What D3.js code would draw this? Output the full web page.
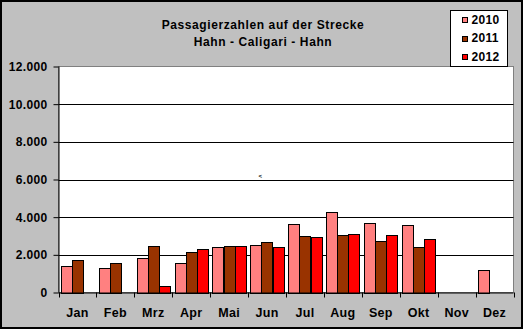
<!DOCTYPE html>
<html><head><meta charset="utf-8">
<script src="https://cdn.jsdelivr.net/npm/d3@7"></script>
<style>
html,body{margin:0;padding:0;background:#fff;}
svg{display:block;font-family:"Liberation Sans",Arial,sans-serif;}
text{font-weight:bold;fill:#000;}
</style></head>
<body><svg id="c" width="524" height="330"></svg>
<script>
const months = ["Jan","Feb","Mrz","Apr","Mai","Jun","Jul","Aug","Sep","Okt","Nov","Dez"];
const seriesNames = ["2010","2011","2012"];
const values2010 = [1430,1320,1850,1540,2390,2540,3660,4290,3710,3600,null,1220];
const values2011 = [1710,1540,2490,2170,2490,2700,3020,3070,2760,2440,null,null];
const values2012 = [null,null,320,2330,2490,2390,2970,3130,3070,2860,null,null];
const yTicks = [0,2000,4000,6000,8000,10000,12000];
const colors = ["#FF8080","#993300","#FF0000"];
const titleLines = ["Passagierzahlen auf der Strecke","Hahn - Caligari - Hahn"];

const allSeries = [values2010, values2011, values2012];
const svg = d3.select("#c");
const plot = {left:58.5, right:513.5, top:66.5, bottom:292.5};

svg.append("rect").attr("x",1).attr("y",1).attr("width",521).attr("height",327)
  .attr("fill","#C0C0C0").attr("stroke","#000").attr("stroke-width",2);

const x = d3.scaleBand().domain(months).range([plot.left, plot.right]).paddingInner(0).paddingOuter(0);
const xs = d3.scaleBand().domain(seriesNames).range([2.3, x.bandwidth()-2.3]).padding(0);
const y = d3.scaleLinear().domain([0,12000]).range([plot.bottom, plot.top]);

svg.append("rect").attr("x",plot.left).attr("y",plot.top)
  .attr("width",plot.right-plot.left).attr("height",plot.bottom-plot.top)
  .attr("fill","#fff").attr("stroke","#808080").attr("stroke-width",1);

svg.append("g").selectAll("line").data(yTicks.filter(t=>t>0 && t<12000)).join("line")
  .attr("x1",plot.left).attr("x2",plot.right)
  .attr("y1",d=>Math.round(y(d))+0.5).attr("y2",d=>Math.round(y(d))+0.5)
  .attr("stroke","#000").attr("stroke-width",1);

const g = svg.append("g").attr("shape-rendering","crispEdges");
months.forEach((m,i)=>{
  allSeries.forEach((s,j)=>{
    const v = s[i];
    if(v==null) return;
    const x0 = x(m)+xs(seriesNames[j]);
    g.append("rect")
      .attr("x",Math.round(x0)+0.5).attr("y",Math.round(y(v))+0.5)
      .attr("width",Math.round(xs.bandwidth()))
      .attr("height",Math.round(y(0))-Math.round(y(v)))
      .attr("fill",colors[j]).attr("stroke","#000").attr("stroke-width",1);
  });
});

const yAxis = d3.axisLeft(y).tickValues(yTicks).tickSize(5).tickPadding(6)
  .tickFormat(d=>d3.format(",")(d).replace(/,/g,"."));
const ya = svg.append("g").attr("transform",`translate(${plot.left},0)`).call(yAxis);
ya.selectAll("text").attr("font-size",12).attr("font-weight","bold").attr("fill","#000")
  .attr("letter-spacing","0.35px")
  .attr("font-family","Liberation Sans, Arial, sans-serif");
ya.selectAll("line,path").attr("stroke","#000");
ya.select(".domain").attr("d",`M0.5,${plot.top}V${plot.bottom}`);

const xAxis = d3.axisBottom(x).tickSize(0).tickPadding(16);
const xa = svg.append("g").attr("transform",`translate(0,${plot.bottom})`).call(xAxis);
xa.selectAll("text").attr("font-size",12.5).attr("font-weight","bold").attr("fill","#000")
  .attr("letter-spacing","0.3px")
  .attr("font-family","Liberation Sans, Arial, sans-serif");
xa.select(".domain").attr("stroke","#000").attr("d",`M${plot.left},0.5H${plot.right}`);
xa.append("g").selectAll("line").data(d3.range(months.length+1)).join("line")
  .attr("x1",d=>Math.round(plot.left + d*x.bandwidth())+0.5)
  .attr("x2",d=>Math.round(plot.left + d*x.bandwidth())+0.5)
  .attr("y1",0).attr("y2",5).attr("stroke","#000");

svg.append("g").selectAll("text").data(titleLines).join("text")
  .attr("x",263).attr("y",(d,i)=>29+i*17).attr("text-anchor","middle")
  .attr("font-size",12).attr("letter-spacing","0.6px").text(d=>d);

const lg = svg.append("g");
lg.append("rect").attr("x",450.5).attr("y",10.5).attr("width",57).attr("height",56)
  .attr("fill","#fff").attr("stroke","#000");
seriesNames.forEach((n,i)=>{
  const cy = 20 + i*18.6;
  lg.append("rect").attr("x",462.5).attr("y",Math.round(cy-3)+0.5).attr("width",5).attr("height",5)
    .attr("fill",colors[i]).attr("stroke","#000");
  lg.append("text").attr("x",471.5).attr("y",cy+3.5).attr("font-size",12)
    .attr("letter-spacing","0.3px").text(n);
});

svg.append("text").attr("x",258.5).attr("y",177.5).attr("font-size",6).text("<");
</script></body></html>
